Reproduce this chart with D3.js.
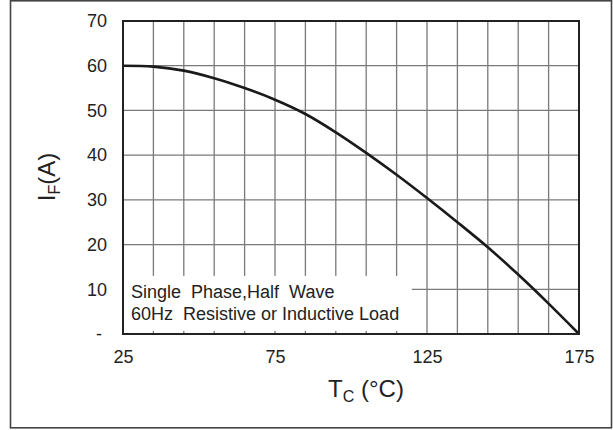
<!DOCTYPE html>
<html>
<head>
<meta charset="utf-8">
<script src="https://cdn.jsdelivr.net/npm/d3@7"></script>
<style>
  body { margin: 0; background: #fff; }
  text { font-family: "Liberation Sans", Arial, sans-serif; fill: #222; }
</style>
</head>
<body>
<svg id="chart" width="613" height="430"></svg>
<script>
// forward current derating curve
var temps   = [25, 35, 45, 55, 65, 75, 85, 95, 105, 115, 125, 135, 145, 155, 165, 175];
var current = [60, 59.8, 58.9, 57.2, 55.0, 52.4, 49.2, 45.1, 40.5, 35.6, 30.4, 25.0, 19.4, 13.3, 6.8, 0];

var xTicks = [25, 75, 125, 175];
var yTicks = [0, 10, 20, 30, 40, 50, 60, 70];
var yTickLabels = ["-", "10", "20", "30", "40", "50", "60", "70"];
var noteLines = ["Single  Phase,Half  Wave", "60Hz  Resistive or Inductive Load"];

var margin = {left: 123, top: 21};
var width = 456, height = 313;

var svg = d3.select('#chart');

// outer frame
svg.append('rect')
    .attr('x', 10.5).attr('y', 0.8)
    .attr('width', 601).attr('height', 427)
    .attr('fill', 'none')
    .attr('stroke', '#444')
    .attr('stroke-width', 1.6);

var g = svg.append('g')
    .attr('transform', `translate(${margin.left},${margin.top})`);

var x = d3.scaleLinear().domain([25, 175]).range([0, width]);
var y = d3.scaleLinear().domain([0, 70]).range([height, 0]);

// grid
g.append('g')
  .selectAll('line')
  .data(d3.range(35, 175, 10))
  .enter().append('line')
    .attr('x1', d => x(d)).attr('x2', d => x(d))
    .attr('y1', 0).attr('y2', height)
    .attr('stroke', '#7a7a7a')
    .attr('stroke-width', 1.3);

g.append('g')
  .selectAll('line')
  .data(d3.range(10, 70, 10))
  .enter().append('line')
    .attr('x1', 0).attr('x2', width)
    .attr('y1', d => y(d)).attr('y2', d => y(d))
    .attr('stroke', '#7a7a7a')
    .attr('stroke-width', 1.3);

// note box hides the grid behind the text
g.append('rect')
    .attr('x', x(25) + 1)
    .attr('y', y(13))
    .attr('width', x(120) - x(25) - 1)
    .attr('height', y(0.7) - y(13))
    .attr('fill', '#fff');

g.selectAll('.note')
  .data(noteLines)
  .enter().append('text')
    .classed('note', true)
    .attr('x', 8)
    .attr('y', (d, i) => y(0) - 36 + i * 22)
    .style('white-space', 'pre')
    .style('font-size', '18px')
    .text(d => d);

// curve
var line = d3.line()
    .x(d => x(d[0]))
    .y(d => y(d[1]))
    .curve(d3.curveCatmullRom.alpha(0.5));

g.append('path')
    .datum(temps.map((t, i) => [t, current[i]]))
    .attr('d', line)
    .attr('fill', 'none')
    .attr('stroke', '#1a1a1a')
    .attr('stroke-width', 2.6);

// plot border
g.append('rect')
    .attr('width', width).attr('height', height)
    .attr('fill', 'none')
    .attr('stroke', '#222')
    .attr('stroke-width', 2);

// tick labels
var xAxis = d3.axisBottom(x).tickValues(xTicks).tickSize(0).tickPadding(16);
g.append('g')
    .attr('transform', `translate(0,${height})`)
    .call(xAxis)
    .call(a => a.select('.domain').remove())
    .selectAll('text')
      .style('font-size', '18px')
      .attr('fill', '#222');

var yAxis = d3.axisLeft(y).tickValues(yTicks).tickSize(0).tickPadding(16)
    .tickFormat((d, i) => yTickLabels[i]);
g.append('g')
    .call(yAxis)
    .call(a => a.select('.domain').remove())
    .selectAll('text')
      .style('font-size', '18px')
      .attr('fill', '#222')
      .attr('dx', d => d === 0 ? -5 : 0);

// axis titles
var xTitle = svg.append('text')
    .attr('x', 366).attr('y', 397)
    .attr('text-anchor', 'middle')
    .style('font-size', '24px');
xTitle.append('tspan').text('T');
xTitle.append('tspan').attr('dy', 5).style('font-size', '16px').text('C');
xTitle.append('tspan').attr('dy', -5).style('white-space', 'pre').text(' (°C)');

var yTitle = svg.append('text')
    .attr('transform', 'translate(55,177) rotate(-90)')
    .attr('text-anchor', 'middle')
    .style('font-size', '24px');
yTitle.append('tspan').text('I');
yTitle.append('tspan').attr('dy', 5).style('font-size', '16px').text('F');
yTitle.append('tspan').attr('dy', -5).text('(A)');
</script>
</body>
</html>
